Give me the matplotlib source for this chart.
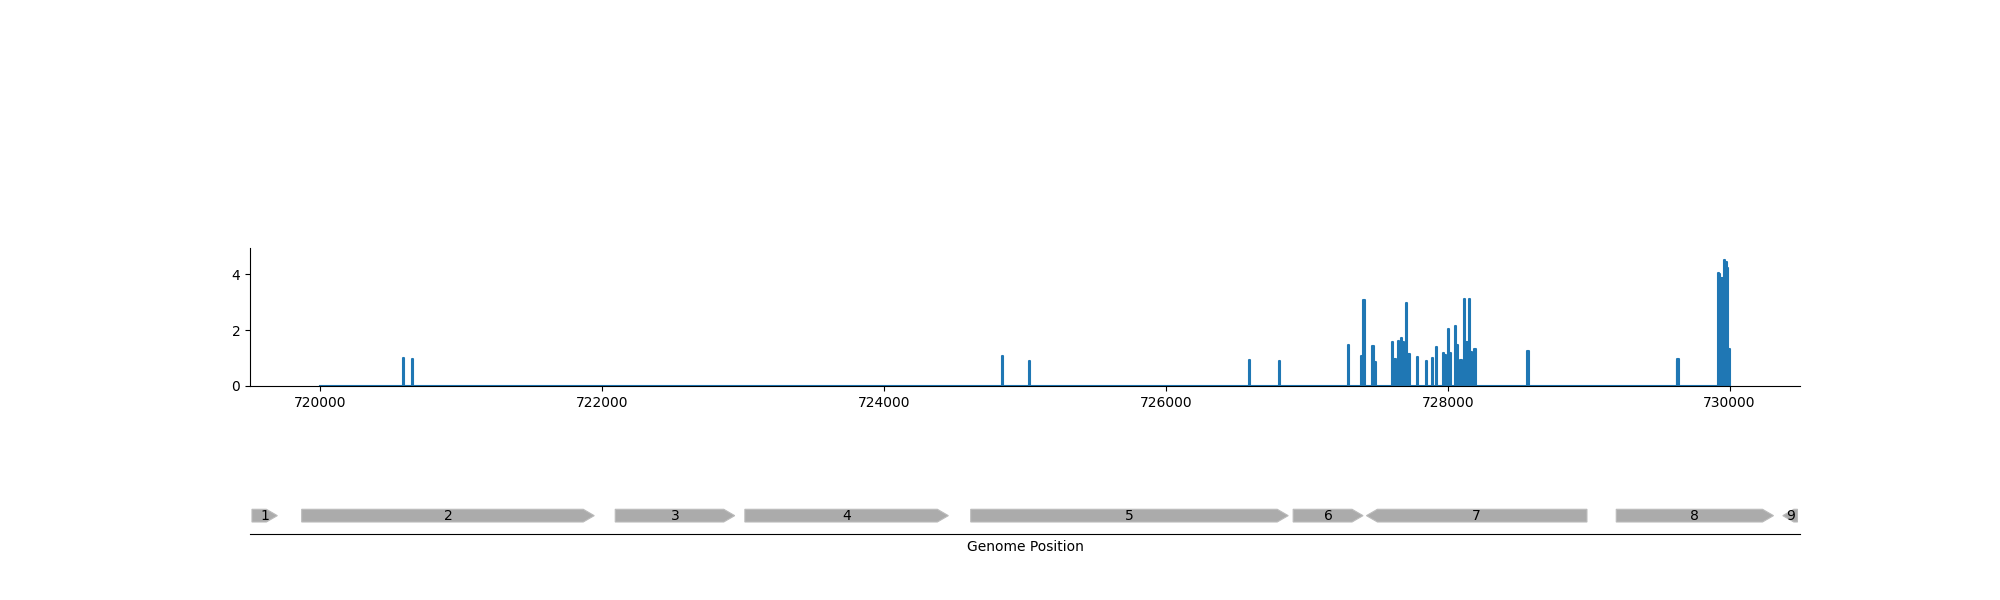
import matplotlib
matplotlib.use("Agg")
import matplotlib.pyplot as plt
from matplotlib.patches import Polygon
import numpy as np

# coverage: region and spikes (position, depth)
region_start = 720000
region_end = 730000
spike_pos = [720591, 720655, 724839, 725035, 726591, 726804, 727293, 727392, 727406,
             727470, 727487, 727610, 727626, 727638, 727652, 727674, 727688, 727705,
             727719, 727730, 727787, 727849, 727894, 727920, 727970, 727986, 728005,
             728019, 728054, 728071, 728094, 728122, 728137, 728154, 728165, 728180,
             728194, 728570, 729628, 729634, 729920, 729929, 729941, 729953, 729967,
             729976, 729986, 729998]
spike_depth = [1.01, 0.98, 1.06, 0.91, 0.92, 0.88, 1.46, 1.08, 3.08,
               1.43, 0.86, 1.58, 0.96, 0.91, 1.61, 1.70, 1.58, 2.96,
               1.16, 1.15, 1.03, 0.90, 1.01, 1.39, 1.17, 1.12, 2.03,
               1.18, 2.13, 1.48, 0.93, 3.12, 1.59, 3.12, 1.22, 1.15,
               1.31, 1.25, 0.91, 0.96, 4.04, 3.99, 3.85, 3.85, 4.52,
               4.42, 4.22, 1.31]

# genes: start, end, strand, label
gene_start = [719514, 719867, 722092, 723012, 724615, 726903, 727423, 729196, 730378]
gene_end = [719694, 721943, 722940, 724456, 726868, 727399, 728988, 730312, 730482]
gene_strand = [1, 1, 1, 1, 1, 1, -1, 1, -1]
gene_label = ["1", "2", "3", "4", "5", "6", "7", "8", "9"]

xmin, xmax = 719500, 730500
spike_w = 8

# build step coverage trace
xs = [region_start]
ys = [0.0]
for p, d in zip(spike_pos, spike_depth):
    xs += [p - spike_w / 2, p - spike_w / 2, p + spike_w / 2, p + spike_w / 2]
    ys += [0.0, d, d, 0.0]
xs.append(region_end)
ys.append(0.0)
xs = np.array(xs)
ys = np.array(ys)

fig = plt.figure(figsize=(20, 6), dpi=100)

ax1 = fig.add_axes([0.125, 0.3567, 0.775, 0.2295])
ax1.fill_between(xs, ys, color="#1f77b4", lw=0)
ax1.plot(xs, ys, color="#1f77b4", lw=1.5)
ax1.set_xlim(xmin, xmax)
ax1.set_ylim(0, max(spike_depth) * 1.09)
ax1.set_yticks([0, 2, 4])
ax1.set_xticks(np.arange(720000, 730001, 2000))
ax1.spines["top"].set_visible(False)
ax1.spines["right"].set_visible(False)

ax2 = fig.add_axes([0.125, 0.11, 0.775, 0.2])
ax2.set_xlim(xmin, xmax)
ax2.set_ylim(0, 1)
for s in ["top", "right", "left"]:
    ax2.spines[s].set_visible(False)
ax2.set_yticks([])
ax2.set_xticks([])
ax2.set_xlabel("Genome Position", fontsize=10, labelpad=4)

y0, y1 = 0.1, 0.206
ym = (y0 + y1) / 2
head = 78
for st, en, strand, lab in zip(gene_start, gene_end, gene_strand, gene_label):
    h = min(head, en - st)
    if strand > 0:
        pts = [(st, y0), (en - h, y0), (en, ym), (en - h, y1), (st, y1)]
    else:
        pts = [(en, y0), (st + h, y0), (st, ym), (st + h, y1), (en, y1)]
    ax2.add_patch(Polygon(pts, closed=True, facecolor="#ababab",
                          edgecolor="#bbbbbb", lw=0.8, clip_on=True))
    ax2.text((st + en) / 2, ym, lab, ha="center", va="center", fontsize=10)

fig.savefig("out.png", dpi=100)
